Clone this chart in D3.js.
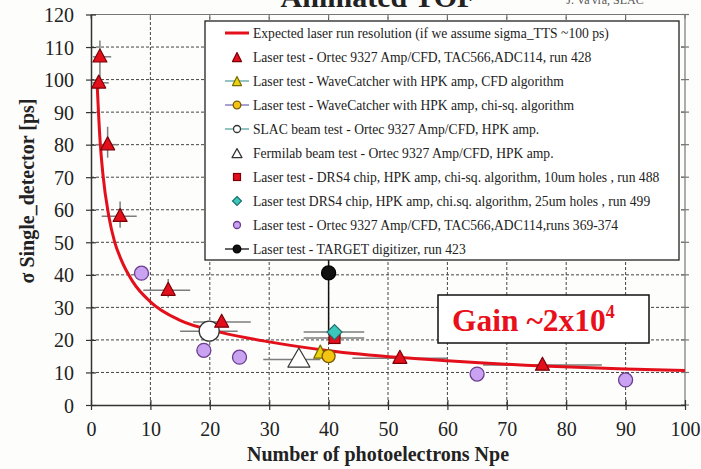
<!DOCTYPE html>
<html>
<head>
<meta charset="utf-8">
<script src="https://cdn.jsdelivr.net/npm/d3@7"></script>
<style>
  html, body { margin: 0; padding: 0; background: #fdfdfc; }
  svg { display: block; }
  svg text { font-family: "Liberation Serif", "Times New Roman", Times, "DejaVu Serif", serif; }
</style>
</head>
<body>
<svg id="chart" width="701" height="469"></svg>
<script>
// ---- data -------------------------------------------------------------
const xTicks = [0, 10, 20, 30, 40, 50, 60, 70, 80, 90, 100];
const yTicks = [0, 10, 20, 30, 40, 50, 60, 70, 80, 90, 100, 110, 120];

// expected resolution curve (sigma vs Npe)
const curveNpe   = [1, 1.5, 2, 3, 4, 5, 7, 10, 15, 21.7, 30, 40, 52, 60, 76, 90, 100];
const curveSigma = [100, 82, 71, 58, 50, 45, 38, 31.7, 26, 22.4, 19.4, 16.7, 14.6, 13.6, 12.0, 11.1, 10.6];

// Laser test - Ortec 9327, run 428
const run428Npe   = [1.5, 1.3, 2.8, 4.9, 13, 22, 52, 76];
const run428Sigma = [107, 99, 80, 58, 35.3, 25.5, 14.4, 12.3];
const run428XLo   = [0.3, 0.2, 0.8, 1.8, 8.8, 17.2, 44, 66];
const run428XHi   = [3.4, 3.0, 4.5, 7.7, 16.7, 26.9, 60, 86];
const run428YLo   = [100, 97, 76, 54.5, 33, 24, 14.4, 12.3];
const run428YHi   = [112, 101, 85.5, 62.5, 38.7, 27, 14.4, 12.3];

// Laser test - Ortec 9327, runs 369-374
const runs369Npe   = [8.5, 19, 25, 65, 90];
const runs369Sigma = [40.5, 16.8, 14.7, 9.5, 7.7];

// single-point measurements
const slacNpe = [19.9], slacSigma = [22.7], slacXLo = [15], slacXHi = [24.7];
const fermiNpe = [35], fermiSigma = [14], fermiXLo = [29], fermiXHi = [38.6];
const wcCfdNpe = [38.6], wcCfdSigma = [16];
const wcChiNpe = [40], wcChiSigma = [15];
const drs10Npe = [41], drs10Sigma = [20.6], drs10XLo = [35.8], drs10XHi = [46];
const drs25Npe = [41], drs25Sigma = [22.4], drs25XLo = [35.8], drs25XHi = [46];
const targetNpe = [40], targetSigma = [40.6], targetYLo = [22], targetYHi = [58];

const legendLabels = [
  "Expected laser run resolution (if we assume sigma_TTS ~100 ps)",
  "Laser test - Ortec 9327 Amp/CFD, TAC566,ADC114, run 428",
  "Laser test - WaveCatcher with HPK amp, CFD algorithm",
  "Laser test - WaveCatcher with HPK amp, chi-sq. algorithm",
  "SLAC beam test - Ortec 9327 Amp/CFD, HPK amp.",
  "Fermilab beam test - Ortec 9327 Amp/CFD, HPK amp.",
  "Laser test - DRS4 chip, HPK amp, chi-sq. algorithm, 10um holes , run 488",
  "Laser test DRS4 chip, HPK amp, chi.sq. algorithm, 25um holes , run 499",
  "Laser test - Ortec 9327 Amp/CFD, TAC566,ADC114,runs 369-374",
  "Laser test - TARGET digitizer, run 423"
];

// ---- layout -----------------------------------------------------------
const SERIF = '"Liberation Serif", "Times New Roman", Times, "DejaVu Serif", serif';
const svg = d3.select("#chart");
const x = d3.scaleLinear().domain([0, 100]).range([91, 685]);
const y = d3.scaleLinear().domain([0, 120]).range([405, 14.5]);

const RED = "#e3101c", RED_DARK = "#7a0008";
const LAV = "#c9a2f2", LAV_DARK = "#6b3c8e";
const YEL = "#f3c411", YEL2 = "#e9d20f";
const TEAL = "#3cc7bd";
const ERR = "#7d7d7d";

// page heading (runs off the top edge)
svg.append("text").attr("x", 378).attr("y", 7).attr("text-anchor", "middle")
  .attr("font-size", 30).attr("font-weight", "bold").attr("fill", "#222")
  .style("font-family", SERIF).text("Animated TOF");
svg.append("text").attr("x", 605).attr("y", 4).attr("text-anchor", "middle")
  .attr("font-size", 12).attr("fill", "#555")
  .style("font-family", SERIF).text("J. Va'vra, SLAC");

// ---- grid ---------------------------------------------------------------
const grid = svg.append("g").attr("stroke", "#444").attr("stroke-width", 1)
  .attr("stroke-dasharray", "3,2");
grid.selectAll("line.gx").data(xTicks.filter(d => d > 0 && d < 100)).join("line")
  .attr("x1", d => x(d)).attr("x2", d => x(d))
  .attr("y1", y(0)).attr("y2", y(120));
grid.selectAll("line.gy").data(yTicks.filter(d => d > 0 && d < 120)).join("line")
  .attr("x1", x(0)).attr("x2", x(100))
  .attr("y1", d => y(d)).attr("y2", d => y(d));

// frame: top and right borders with ticks
const frame = svg.append("g").attr("stroke", "#777").attr("stroke-width", 1.2);
frame.append("line").attr("x1", x(0)).attr("x2", x(100)).attr("y1", y(120)).attr("y2", y(120));
frame.append("line").attr("x1", x(100)).attr("x2", x(100)).attr("y1", y(120)).attr("y2", y(0));
frame.selectAll("line.tt").data(xTicks).join("line")
  .attr("x1", d => x(d)).attr("x2", d => x(d)).attr("y1", y(120)).attr("y2", y(120) + 4);
frame.selectAll("line.rt").data(yTicks).join("line")
  .attr("x1", x(100) - 4).attr("x2", x(100) + 4).attr("y1", d => y(d)).attr("y2", d => y(d));

// ---- axes -----------------------------------------------------------------
const xAxis = svg.append("g").attr("transform", `translate(0,${y(0)})`)
  .call(d3.axisBottom(x).tickValues(xTicks).tickSizeInner(5).tickSizeOuter(0).tickPadding(12));
const yAxis = svg.append("g").attr("transform", `translate(${x(0)},0)`)
  .call(d3.axisLeft(y).tickValues(yTicks).tickSizeInner(5).tickSizeOuter(0).tickPadding(12));
[xAxis, yAxis].forEach(a => {
  a.attr("font-family", null).attr("font-size", null);
  a.select(".domain").attr("stroke", "#333").attr("stroke-width", 1.5);
  a.selectAll(".tick line").attr("stroke", "#333").attr("stroke-width", 1.2);
  a.selectAll(".tick text").style("font-family", SERIF)
    .attr("font-size", 20).attr("fill", "#222");
});
xAxis.selectAll(".tick line").attr("y1", -5).attr("y2", 5);
yAxis.selectAll(".tick line").attr("x1", -5).attr("x2", 5);
yAxis.selectAll(".tick text").attr("dy", "0.35em");

svg.append("text").attr("x", 378).attr("y", 461).attr("text-anchor", "middle")
  .attr("font-size", 20).attr("font-weight", "bold").attr("fill", "#222")
  .style("font-family", SERIF).text("Number of photoelectrons Npe");
svg.append("text").attr("transform", "translate(34,191) rotate(-90)")
  .attr("text-anchor", "middle").attr("font-size", 20).attr("font-weight", "bold")
  .attr("fill", "#222").style("font-family", SERIF)
  .text("σ  Single_detector  [ps]");

// ---- error bars -----------------------------------------------------------
const eb = svg.append("g").attr("stroke", ERR).attr("stroke-width", 1.5);
function hBars(sigArr, lo, hi) {
  sigArr.forEach((s, i) => {
    if (hi[i] > lo[i]) eb.append("line").attr("x1", x(lo[i])).attr("x2", x(hi[i]))
      .attr("y1", y(s)).attr("y2", y(s));
  });
}
function vBars(npeArr, lo, hi, color) {
  npeArr.forEach((n, i) => {
    if (hi[i] > lo[i]) eb.append("line").attr("x1", x(n)).attr("x2", x(n))
      .attr("y1", y(lo[i])).attr("y2", y(hi[i])).attr("stroke", color || ERR);
  });
}
hBars(run428Sigma, run428XLo, run428XHi);
vBars(run428Npe, run428YLo, run428YHi);
hBars(slacSigma, slacXLo, slacXHi);
hBars(fermiSigma, fermiXLo, fermiXHi);
hBars(drs10Sigma, drs10XLo, drs10XHi);
hBars(drs25Sigma, drs25XLo, drs25XHi);
vBars(targetNpe, targetYLo, targetYHi, "#111");

// ---- expected resolution curve ----------------------------------------------
const curvePts = curveNpe.map((n, i) => [n, curveSigma[i]]);
svg.append("path").datum(curvePts)
  .attr("d", d3.line().x(d => x(d[0])).y(d => y(d[1])).curve(d3.curveMonotoneX))
  .attr("fill", "none").attr("stroke", RED).attr("stroke-width", 3);

// ---- markers ---------------------------------------------------------------
function tri(g, cx, cy, w, h, fill, stroke) {
  g.append("path").attr("d", `M${cx},${cy - h * 0.6}L${cx + w / 2},${cy + h * 0.4}L${cx - w / 2},${cy + h * 0.4}Z`)
    .attr("fill", fill).attr("stroke", stroke).attr("stroke-width", 1.2)
    .attr("stroke-linejoin", "round");
}
function circ(g, cx, cy, r, fill, stroke) {
  g.append("circle").attr("cx", cx).attr("cy", cy).attr("r", r)
    .attr("fill", fill).attr("stroke", stroke).attr("stroke-width", 1.3);
}
function square(g, cx, cy, s, fill, stroke) {
  g.append("rect").attr("x", cx - s / 2).attr("y", cy - s / 2).attr("width", s).attr("height", s)
    .attr("fill", fill).attr("stroke", stroke).attr("stroke-width", 1.2);
}
function diamond(g, cx, cy, r, fill, stroke) {
  g.append("path").attr("d", `M${cx},${cy - r}L${cx + r},${cy}L${cx},${cy + r}L${cx - r},${cy}Z`)
    .attr("fill", fill).attr("stroke", stroke).attr("stroke-width", 1.2);
}

const mk = svg.append("g");
runs369Npe.forEach((n, i) => circ(mk, x(n), y(runs369Sigma[i]), 7, LAV, LAV_DARK));
fermiNpe.forEach((n, i) => tri(mk, x(n), y(fermiSigma[i]), 22, 19, "#fff", "#333"));
slacNpe.forEach((n, i) => circ(mk, x(n), y(slacSigma[i]), 10, "#fff", "#333"));
drs10Npe.forEach((n, i) => square(mk, x(n), y(drs10Sigma[i]), 11, RED, RED_DARK));
drs25Npe.forEach((n, i) => diamond(mk, x(n), y(drs25Sigma[i]), 7.5, TEAL, "#1d6f6a"));
wcCfdNpe.forEach((n, i) => tri(mk, x(n), y(wcCfdSigma[i]), 13, 13, YEL2, "#7a6a00"));
wcChiNpe.forEach((n, i) => circ(mk, x(n), y(wcChiSigma[i]), 6.5, YEL, "#7a5a00"));
targetNpe.forEach((n, i) => circ(mk, x(n), y(targetSigma[i]), 7, "#111", "#000"));
run428Npe.forEach((n, i) => tri(mk, x(n), y(run428Sigma[i]), 14, 13, RED, RED_DARK));

// ---- legend ---------------------------------------------------------------
const lg = svg.append("g");
lg.append("rect").attr("x", 205).attr("y", 21).attr("width", 474).attr("height", 239)
  .attr("fill", "#fff").attr("stroke", "#222").attr("stroke-width", 1.3);
const rowY = i => 33 + i * 24;
const symX = 237;
const legendSym = [
  (g, cy) => g.append("line").attr("x1", 225).attr("x2", 249).attr("y1", cy).attr("y2", cy)
    .attr("stroke", RED).attr("stroke-width", 3),
  (g, cy) => tri(g, symX, cy + 1, 9, 9, RED, RED_DARK),
  (g, cy) => { g.append("line").attr("x1", 225).attr("x2", 249).attr("y1", cy).attr("y2", cy)
      .attr("stroke", "#5aa59c").attr("stroke-width", 1.3);
    tri(g, symX, cy + 1, 9, 9, YEL2, "#7a6a00"); },
  (g, cy) => { g.append("line").attr("x1", 225).attr("x2", 249).attr("y1", cy).attr("y2", cy)
      .attr("stroke", "#7a6bc0").attr("stroke-width", 1.3);
    circ(g, symX, cy, 3.8, YEL, "#7a5a00"); },
  (g, cy) => { g.append("line").attr("x1", 225).attr("x2", 249).attr("y1", cy).attr("y2", cy)
      .attr("stroke", "#5aa59c").attr("stroke-width", 1.3);
    circ(g, symX, cy, 3.5, "#fff", "#333"); },
  (g, cy) => tri(g, symX, cy + 1, 10, 9, "#fff", "#333"),
  (g, cy) => square(g, symX, cy, 7, RED, RED_DARK),
  (g, cy) => diamond(g, symX, cy, 4.5, TEAL, "#1d6f6a"),
  (g, cy) => circ(g, symX, cy, 3.5, LAV, LAV_DARK),
  (g, cy) => { g.append("line").attr("x1", 225).attr("x2", 249).attr("y1", cy).attr("y2", cy)
      .attr("stroke", "#111").attr("stroke-width", 1.3);
    circ(g, symX, cy, 3.8, "#111", "#000"); }
];
legendLabels.forEach((t, i) => {
  legendSym[i](lg, rowY(i));
  lg.append("text").attr("x", 253).attr("y", rowY(i)).attr("dy", "0.35em")
    .attr("font-size", 13.6).attr("fill", "#222").style("font-family", SERIF).text(t);
});

// ---- gain annotation -------------------------------------------------------
const gb = svg.append("g");
gb.append("rect").attr("x", 438).attr("y", 295).attr("width", 211).attr("height", 48)
  .attr("fill", "#fff").attr("stroke", "#111").attr("stroke-width", 1.5);
const gt = gb.append("text").attr("x", 452).attr("y", 331)
  .attr("font-size", 31.5).attr("font-weight", "bold").attr("fill", "#e8101a")
  .style("font-family", SERIF);
gt.append("tspan").text("Gain ~2x10");
gt.append("tspan").attr("font-size", 18).attr("dy", -13).text("4");
</script>
</body>
</html>
